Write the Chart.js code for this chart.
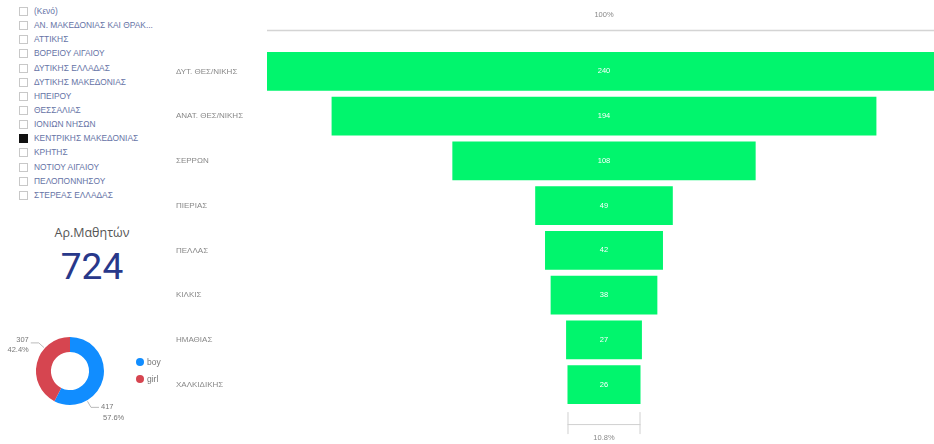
<!DOCTYPE html>
<html>
<head>
<meta charset="utf-8">
<script src="https://cdn.jsdelivr.net/npm/chart.js@4/dist/chart.umd.min.js"></script>
<style>
  body { margin:0; background:#fff; width:934px; height:444px; overflow:hidden; position:relative; font-family:"Liberation Sans", "DejaVu Sans", sans-serif; }
  #slicer { position:absolute; left:0; top:4px; }
  .item { position:relative; height:14.15px; line-height:14px; font-size:8.4px; color:#6673a6; padding-left:34px; white-space:nowrap; }
  .item .box { position:absolute; left:19px; top:3px; width:7px; height:7px; border:1px solid #c8c8c8; background:#fff; }
  .item.on .box { background:#111; border-color:#111; }
  #card { position:absolute; left:0; top:224px; width:184px; text-align:center; }
  #card .t { font-family:"Open Sans", sans-serif; font-size:12.5px; color:#555; }
  #card .v { font-family:"Roboto", sans-serif; font-size:37px; color:#28388a; line-height:40px; margin-top:6px; }
  #donutWrap { position:absolute; left:0; top:320px; width:140px; height:110px; }
  #legend { position:absolute; left:136px; top:357px; font-size:8.5px; color:#777; }
  #legend div { height:17px; line-height:10px; }
  #legend span { display:inline-block; width:8px; height:8px; border-radius:50%; margin-right:3px; vertical-align:-1px; }
  #funnelWrap { position:absolute; left:165px; top:0; width:776px; height:444px; }
</style>
</head>
<body>
<div id="slicer"></div>
<div id="card"><div class="t">Αρ.Μαθητών</div><div class="v" id="total"></div></div>
<div id="donutWrap"><canvas id="donut"></canvas></div>
<div id="legend"></div>
<div id="funnelWrap"><canvas id="funnel"></canvas></div>
<script>
// data
let regions = ['(Κενό)', 'ΑΝ. ΜΑΚΕΔΟΝΙΑΣ ΚΑΙ ΘΡΑΚ...', 'ΑΤΤΙΚΗΣ', 'ΒΟΡΕΙΟΥ ΑΙΓΑΙΟΥ', 'ΔΥΤΙΚΗΣ ΕΛΛΑΔΑΣ',
  'ΔΥΤΙΚΗΣ ΜΑΚΕΔΟΝΙΑΣ', 'ΗΠΕΙΡΟΥ', 'ΘΕΣΣΑΛΙΑΣ', 'ΙΟΝΙΩΝ ΝΗΣΩΝ', 'ΚΕΝΤΡΙΚΗΣ ΜΑΚΕΔΟΝΙΑΣ',
  'ΚΡΗΤΗΣ', 'ΝΟΤΙΟΥ ΑΙΓΑΙΟΥ', 'ΠΕΛΟΠΟΝΝΗΣΟΥ', 'ΣΤΕΡΕΑΣ ΕΛΛΑΔΑΣ'];
let selectedRegion = 'ΚΕΝΤΡΙΚΗΣ ΜΑΚΕΔΟΝΙΑΣ';

let units = ['ΔΥΤ. ΘΕΣ/ΝΙΚΗΣ', 'ΑΝΑΤ. ΘΕΣ/ΝΙΚΗΣ', 'ΣΕΡΡΩΝ', 'ΠΙΕΡΙΑΣ', 'ΠΕΛΛΑΣ', 'ΚΙΛΚΙΣ', 'ΗΜΑΘΙΑΣ', 'ΧΑΛΚΙΔΙΚΗΣ'];
let students = [240, 194, 108, 49, 42, 38, 27, 26];

let genders = ['boy', 'girl'];
let genderCounts = [417, 307];
let genderColors = ['#118DFF', '#D64550'];

// slicer + card
let slicer = document.querySelector('#slicer');
regions.forEach(r => {
  let d = document.createElement('div');
  d.className = 'item' + (r === selectedRegion ? ' on' : '');
  d.innerHTML = '<span class="box"></span>' + r;
  slicer.appendChild(d);
});
let total = students.reduce((a, b) => a + b, 0);
document.querySelector('#total').textContent = total;

let legend = document.querySelector('#legend');
genders.forEach((g, i) => {
  legend.innerHTML += '<div><span style="background:' + genderColors[i] + '"></span>' + g + '</div>';
});

// donut labels with leader lines
let labelAngles = [60, 222]; // canvas degrees where the leader leaves the ring
let donutLabels = {
  id: 'donutLabels',
  afterDatasetsDraw(chart) {
    let ctx = chart.ctx;
    let sum = genderCounts.reduce((a, b) => a + b, 0);
    chart.getDatasetMeta(0).data.forEach((arc, i) => {
      let a = labelAngles[i] * Math.PI / 180;
      let r = arc.outerRadius;
      let x0 = arc.x + Math.cos(a) * (r + 1), y0 = arc.y + Math.sin(a) * (r + 1);
      let x1 = arc.x + Math.cos(a) * (r + 8), y1 = arc.y + Math.sin(a) * (r + 8);
      let dir = Math.cos(a) >= 0 ? 1 : -1;
      let x2 = x1 + dir * 8;
      ctx.save();
      ctx.strokeStyle = '#aaa';
      ctx.lineWidth = 0.8;
      ctx.beginPath();
      ctx.moveTo(x0, y0); ctx.lineTo(x1, y1); ctx.lineTo(x2, y1);
      ctx.stroke();
      ctx.fillStyle = '#777';
      ctx.font = '7.5px "Liberation Sans", sans-serif';
      ctx.textAlign = dir > 0 ? 'left' : 'right';
      ctx.textBaseline = 'middle';
      let tx = x2 + dir * 2;
      let pct = (genderCounts[i] / sum * 100).toFixed(1) + '%';
      if (dir > 0) {
        ctx.fillText(genderCounts[i], tx, y1);
        ctx.fillText(pct, tx + 2, y1 + 11);
      } else {
        ctx.fillText(genderCounts[i], tx, y1 - 3);
        ctx.fillText(pct, tx, y1 + 7);
      }
      ctx.restore();
    });
  }
};

new Chart(document.querySelector('#donut'), {
  type: 'doughnut',
  data: {
    labels: genders,
    datasets: [{ data: genderCounts, backgroundColor: genderColors, borderWidth: 0 }]
  },
  options: {
    responsive: true,
    maintainAspectRatio: false,
    animation: false,
    cutout: '56%',
    layout: { padding: { left: 36, right: 36, top: 17, bottom: 25 } },
    plugins: { legend: { display: false }, tooltip: { enabled: false } }
  },
  plugins: [donutLabels]
});

// funnel
let maxVal = students[0];
let funnelDeco = {
  id: 'funnelDeco',
  afterDatasetsDraw(chart) {
    let ctx = chart.ctx;
    let xs = chart.scales.x;
    let bars = chart.getDatasetMeta(0).data;
    ctx.save();
    // value labels
    ctx.fillStyle = '#fff';
    ctx.font = '7.5px "Liberation Sans", sans-serif';
    ctx.textAlign = 'center';
    ctx.textBaseline = 'middle';
    bars.forEach((b, i) => ctx.fillText(students[i], xs.getPixelForValue(0), b.y));
    // top 100%
    ctx.fillStyle = '#888';
    ctx.fillText('100%', xs.getPixelForValue(0), 15);
    ctx.strokeStyle = '#d4d4d4';
    ctx.lineWidth = 1.5;
    ctx.beginPath();
    ctx.moveTo(xs.getPixelForValue(-maxVal / 2), 30.5);
    ctx.lineTo(xs.getPixelForValue(maxVal / 2), 30.5);
    ctx.stroke();
    // bottom bracket
    let last = students[students.length - 1];
    let xl = xs.getPixelForValue(-last / 2), xr = xs.getPixelForValue(last / 2);
    let yb = bars[bars.length - 1].y + bars[bars.length - 1].height / 2;
    ctx.lineWidth = 1;
    ctx.strokeStyle = '#d0d0d0';
    ctx.beginPath();
    ctx.moveTo(xl + 0.5, yb + 8); ctx.lineTo(xl + 0.5, yb + 30);
    ctx.moveTo(xr - 0.5, yb + 8); ctx.lineTo(xr - 0.5, yb + 30);
    ctx.moveTo(xl, yb + 20.5); ctx.lineTo(xr, yb + 20.5);
    ctx.stroke();
    ctx.fillStyle = '#888';
    ctx.fillText((last / maxVal * 100).toFixed(1) + '%', xs.getPixelForValue(0), yb + 34);
    ctx.restore();
  }
};

new Chart(document.querySelector('#funnel'), {
  type: 'bar',
  data: {
    labels: units,
    datasets: [{
      data: students.map(v => [-v / 2, v / 2]),
      backgroundColor: '#01F56D',
      borderWidth: 0,
      borderSkipped: false,
      barPercentage: 0.87,
      categoryPercentage: 1
    }]
  },
  options: {
    indexAxis: 'y',
    responsive: true,
    maintainAspectRatio: false,
    animation: false,
    layout: { padding: { left: 11, right: 0, top: 49, bottom: 37 } },
    scales: {
      x: { display: false, min: -maxVal / 2, max: maxVal / 2 },
      y: {
        grid: { display: false },
        border: { display: false },
        afterFit: s => { s.width = 91; },
        ticks: { crossAlign: 'far', color: '#888', font: { size: 8, family: '"Liberation Sans", sans-serif' } }
      }
    },
    plugins: { legend: { display: false }, tooltip: { enabled: false } }
  },
  plugins: [funnelDeco]
});
</script>
</body>
</html>
